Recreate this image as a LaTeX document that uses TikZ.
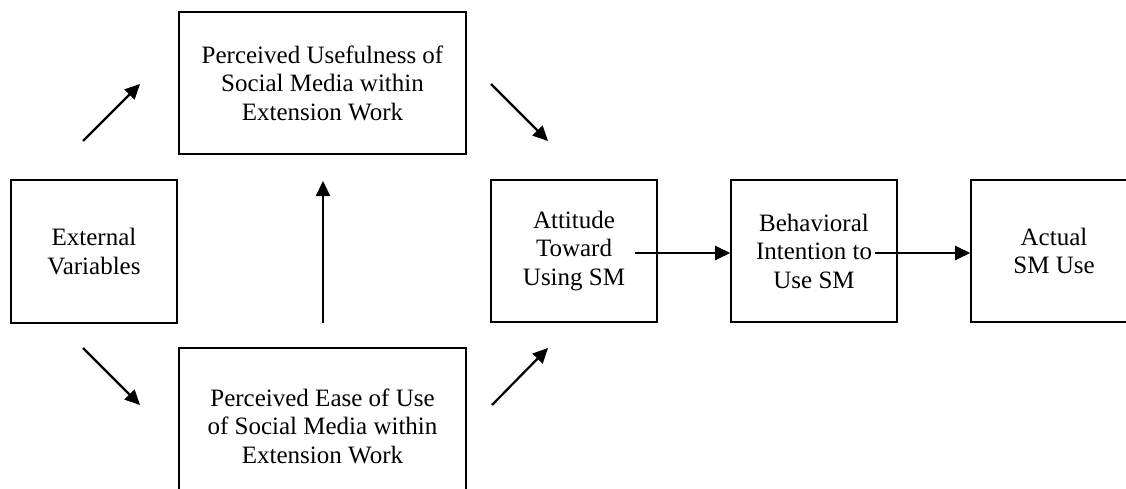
\documentclass[tikz,border=0pt]{standalone}
\usepackage{fontspec}
\setmainfont{Liberation Serif}
\usetikzlibrary{arrows.meta}
\begin{document}
\begin{tikzpicture}[x=1pt,y=-1pt,
  box/.style={draw, line width=1.6pt, rectangle, inner sep=0pt, align=center,
    font=\fontsize{25}{28.5}\selectfont},
  arr/.style={line width=2.2pt, -{Triangle[length=15pt,width=14pt]}}]
\useasboundingbox (0,0) rectangle (1126,489);
\clip (0,0) rectangle (1126,489);
\node[box, minimum width=287pt, minimum height=142pt] (pu) at (322.5,83)
  {Perceived Usefulness of\\Social Media within\\Extension Work};
\node[box, minimum width=166pt, minimum height=143pt] (ext) at (94,251.5)
  {External\\Variables};
\node[box, minimum width=287pt, minimum height=156pt] (peou) at (322.5,426)
  {Perceived Ease of Use\\of Social Media within\\Extension Work};
\node[box, minimum width=166pt, minimum height=142pt] (att) at (574,251)
  {Attitude\\Toward\\Using SM};
\node[box, minimum width=166pt, minimum height=142pt] (bi) at (814,251)
  {Behavioral\\Intention to\\Use SM};
\node[box, minimum width=166pt, minimum height=142pt] (act) at (1054,251)
  {Actual\\SM Use};
% free arrow ends
\coordinate (e1s) at (83,141);
\coordinate (e1t) at (140,84);
\coordinate (p1s) at (491,84);
\coordinate (p1t) at (548,141);
\coordinate (e2s) at (83,348);
\coordinate (e2t) at (140,405);
\coordinate (p2s) at (492,405);
\coordinate (p2t) at (548,348);
\coordinate (vs) at (323,323);
\coordinate (vt) at (323,181);
\coordinate (h1s) at (635,253);
\coordinate (h2s) at (875,253);
\draw[arr] (e1s) -- (e1t);
\draw[arr] (p1s) -- (p1t);
\draw[arr] (e2s) -- (e2t);
\draw[arr] (p2s) -- (p2t);
\draw[arr] (vs) -- (vt);
\draw[arr] (h1s) -- (h1s -| bi.west);
\draw[arr] (h2s) -- (h2s -| act.west);
\end{tikzpicture}
\end{document}
